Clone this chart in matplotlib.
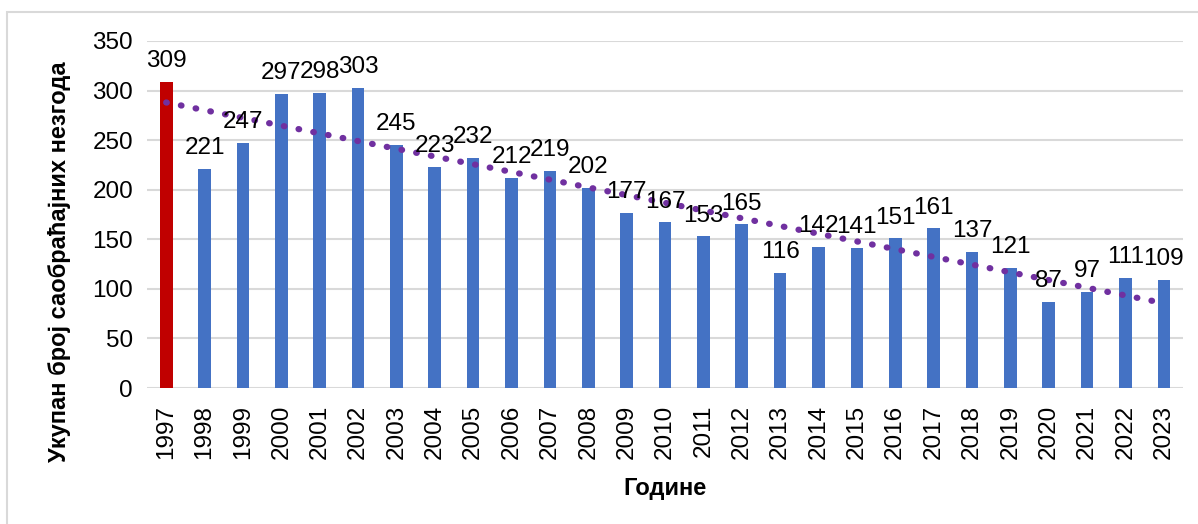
import numpy as np
import matplotlib.pyplot as plt
from matplotlib.patches import Rectangle

plt.rcParams['font.family'] = ['Liberation Sans', 'DejaVu Sans']

years = [str(y) for y in range(1997, 2024)]
accidents = [309, 221, 247, 297, 298, 303, 245, 223, 232, 212, 219, 202, 177,
             167, 153, 165, 116, 142, 141, 151, 161, 137, 121, 87, 97, 111, 109]
y_label = 'Укупан број саобраћајних незгода'
x_label = 'Године'

blue = '#4472C4'
red = '#C00000'
purple = '#7030A0'
grid_col = '#D9D9D9'

fig = plt.figure(figsize=(11.98, 5.24), dpi=100)
ax = fig.add_axes([0.1227, 0.2595, 0.8648, 0.6623])

x = np.arange(len(years))
colors = [red] + [blue] * (len(years) - 1)
ax.bar(x, accidents, width=0.33, color=colors, zorder=2)

for xi, v in zip(x, accidents):
    ax.annotate(str(v), (xi, v), xytext=(0, 7), textcoords='offset points',
                ha='center', va='bottom', fontsize=17.5, zorder=4)

# linear trend line, as in the spreadsheet
coef = np.polyfit(x, accidents, 1)
trend = np.polyval(coef, x)
ax.plot(x, trend, linestyle=(0, (0.1, 2.3)), color=purple, linewidth=4.5,
        dash_capstyle='round', zorder=3)

ax.set_xlim(-0.5, len(years) - 0.5)
ax.set_ylim(0, 350)
ax.set_yticks(range(0, 351, 50))
ax.set_xticks(x)
ax.set_xticklabels(years, rotation=90)
ax.tick_params(axis='both', length=0, labelsize=17.5)
ax.tick_params(axis='x', pad=12)
ax.tick_params(axis='y', pad=10)
ax.yaxis.grid(True, color=grid_col, linewidth=1.5, zorder=0)
ax.set_axisbelow(True)
for s in ax.spines.values():
    s.set_visible(False)

fig.text(0.05, 0.5, y_label, rotation=90, ha='center', va='center',
         fontsize=17, fontweight='bold')
fig.text(0.555, 0.068, x_label, ha='center', va='center',
         fontsize=17, fontweight='bold')

fig.patches.append(Rectangle((0.006, -0.05), 1.1, 1.027, transform=fig.transFigure,
                             fill=False, edgecolor=grid_col, linewidth=1.5))

fig.savefig('out.png', dpi=100)
